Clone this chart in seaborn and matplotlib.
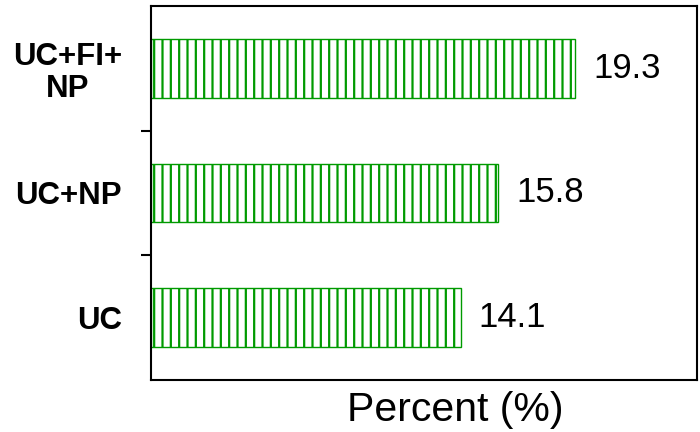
import matplotlib
matplotlib.use("Agg")
import matplotlib.pyplot as plt
import seaborn as sns
import pandas as pd

# Treatment groups (top to bottom) and their percentages
categories = ["UC+FI+\nNP", "UC+NP", "UC"]
percent = [19.3, 15.8, 14.1]

GREEN = "#009a00"

sns.set_style("white")
plt.rcParams["font.family"] = ["Liberation Sans", "DejaVu Sans"]
plt.rcParams["text.color"] = "black"
plt.rcParams["axes.labelcolor"] = "black"
plt.rcParams["ytick.color"] = "black"
plt.rcParams["xtick.color"] = "black"
plt.rcParams["hatch.color"] = GREEN
plt.rcParams["hatch.linewidth"] = 1.6

df = pd.DataFrame({"group": categories, "percent": percent})

fig = plt.figure(figsize=(7.0, 4.32), dpi=100)
ax = fig.add_axes([0.2157, 0.1204, 0.78, 0.8657])

sns.barplot(data=df, x="percent", y="group", order=categories, orient="h",
            color="white", edgecolor=GREEN, linewidth=1.0, width=0.47,
            hatch="||", ax=ax)

for cont in ax.containers:
    ax.bar_label(cont, fmt="%.1f", padding=13, fontsize=25, color="black")

ax.set_xlim(0, 24.85)
ax.set_ylim(2.5, -0.5)

# Frame on all four sides
for side in ["left", "right", "top", "bottom"]:
    ax.spines[side].set_visible(True)
    ax.spines[side].set_color("black")
    ax.spines[side].set_linewidth(1.5)

# Ticks sit between groups; labels sit at group centres
ax.set_yticks([0.5, 1.5])
ax.set_yticklabels([])
ax.tick_params(axis="y", which="major", direction="out", length=7.2, width=1.5,
               color="black", left=True)
ax.set_yticks([0, 1, 2], minor=True)
ax.set_yticklabels(categories, minor=True, fontsize=22.5, fontweight="bold",
                   multialignment="center", linespacing=1.1, color="black")
ax.tick_params(axis="y", which="minor", length=0, pad=21)

ax.set_xticks([])
ax.set_ylabel("")
ax.set_xlabel("Percent (%)", fontsize=29.5, x=0.557, labelpad=8, color="black")

fig.savefig("out.png", dpi=100)
